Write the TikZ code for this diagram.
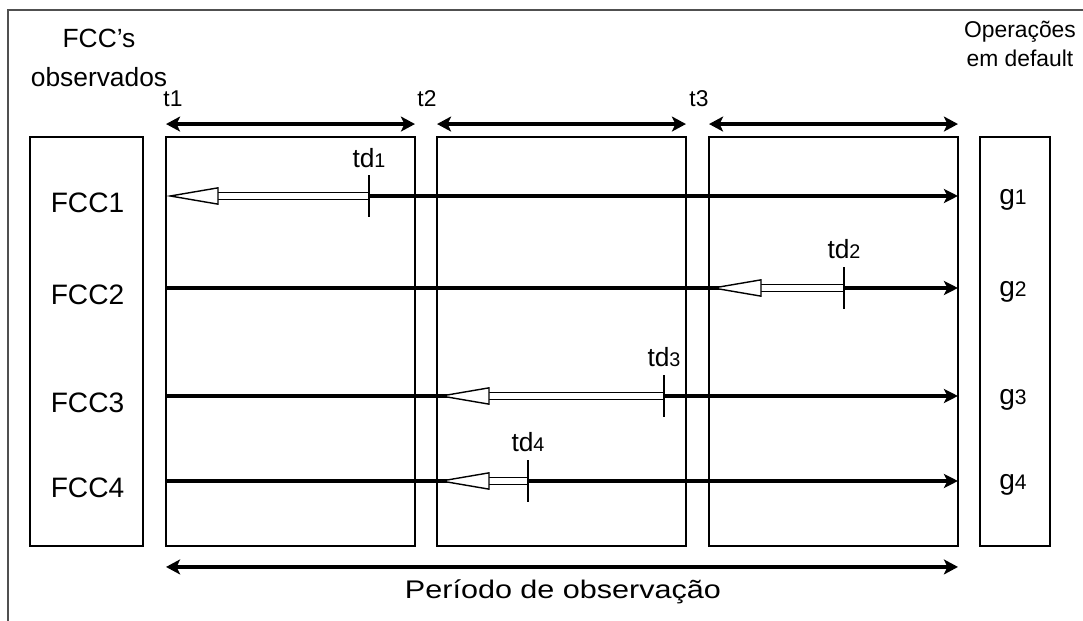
\documentclass[tikz,border=0pt]{standalone}
\usepackage{fontspec}
\setmainfont{Liberation Sans}
\newfontfamily\widesf[FakeStretch=1.2]{Liberation Sans}
\usetikzlibrary{arrows.meta, positioning}
\definecolor{framegray}{RGB}{80, 80, 80}
\newcommand{\ix}[1]{\scalebox{0.75}{#1}}

\begin{document}
\begin{tikzpicture}[x=0.02cm, y=-0.02cm,
    box/.style={draw, line width=0.9pt, inner sep=0pt, outer sep=0pt, minimum height=8.18cm},
    span/.style={line width=1.8pt, {Stealth[length=8pt,width=8.5pt,inset=2pt]}-{Stealth[length=8pt,width=8.5pt,inset=2pt]}},
    flow/.style={line width=1.8pt, -{Stealth[length=8pt,width=8pt,inset=2pt]}},
    hollow/.style={line width=0.8pt, double=white, double distance=3pt, -{Triangle[length=30pt,width=10pt,fill=white]}},
    tick/.style={line width=1.1pt},
    rowlbl/.style={anchor=base, font=\fontsize{16}{18}\selectfont},
    glbl/.style={anchor=base, font=\fontsize{16}{18}\selectfont},
    tdlbl/.style={anchor=base, font=\fontsize{15}{17}\selectfont},
    tlbl/.style={anchor=base, font=\fontsize{13}{15}\selectfont}]
    \useasboundingbox (0,0) rectangle (1083,621);
    \draw[framegray, line width=1.2pt] (8,621) -- (8,10) -- (1083,10);

    \node[box, minimum width=2.26cm] (obs) at (86.5,341.5) {};
    \node[box, minimum width=4.98cm] (p1) at (290.5,341.5) {};
    \node[box, minimum width=4.98cm] (p2) at (561.5,341.5) {};
    \node[box, minimum width=4.98cm] (p3) at (833.5,341.5) {};
    \node[box, minimum width=1.4cm] (dft) at (1015,341.5) {};

    \node[align=center, font=\fontsize{15}{22}\selectfont] (obshead) at (99,58) {FCC’s\\observados};
    \node[align=center, font=\fontsize{13}{16.5}\selectfont] (dfthead) at (1020,44) {Operações\\em default};

    \node[tlbl] (t1) at (173,107) {t1};
    \node[tlbl] (t2) at (427,107) {t2};
    \node[tlbl] (t3) at (699,107) {t3};
    \draw[span] ([yshift=0.26cm]p1.north west) -- ([yshift=0.26cm]p1.north east);
    \draw[span] ([yshift=0.26cm]p2.north west) -- ([yshift=0.26cm]p2.north east);
    \draw[span] ([yshift=0.26cm]p3.north west) -- ([yshift=0.26cm]p3.north east);

    \node[rowlbl] (fcc1) at (87.5,213) {FCC1};
    \node[rowlbl] (fcc2) at (87.5,305) {FCC2};
    \node[rowlbl] (fcc3) at (87.5,413) {FCC3};
    \node[rowlbl] (fcc4) at (87.5,498) {FCC4};
    \node[glbl] (g1) at (1013,205) {g\ix{1}};
    \node[glbl] (g2) at (1013,297) {g\ix{2}};
    \node[glbl] (g3) at (1013,405) {g\ix{3}};
    \node[glbl] (g4) at (1013,490) {g\ix{4}};

    \coordinate (td1) at (369,196);
    \coordinate (td2) at (844,288);
    \coordinate (td3) at (664,396);
    \coordinate (td4) at (528,481);

    \draw[flow] (td1) -- (p3.east |- td1);
    \draw[flow] (p1.west |- td2) -- (p3.east |- td2);
    \draw[flow] (p1.west |- td3) -- (p3.east |- td3);
    \draw[flow] (p1.west |- td4) -- (p3.east |- td4);

    \draw[hollow] (td1) -- (p1.west |- td1);
    \draw[hollow] (td2) -- (p3.west |- td2);
    \draw[hollow] (td3) -- (p2.west |- td3);
    \draw[hollow] (td4) -- (p2.west |- td4);

    \draw[tick] ([yshift=0.42cm]td1) -- ([yshift=-0.42cm]td1);
    \draw[tick] ([yshift=0.42cm]td2) -- ([yshift=-0.42cm]td2);
    \draw[tick] ([yshift=0.42cm]td3) -- ([yshift=-0.42cm]td3);
    \draw[tick] ([yshift=0.42cm]td4) -- ([yshift=-0.42cm]td4);
    \node[tdlbl] (td1lbl) at ([yshift=0.58cm]td1) {td\ix{1}};
    \node[tdlbl] (td2lbl) at ([yshift=0.6cm]td2) {td\ix{2}};
    \node[tdlbl] (td3lbl) at ([yshift=0.6cm]td3) {td\ix{3}};
    \node[tdlbl] (td4lbl) at ([yshift=0.6cm]td4) {td\ix{4}};

    \draw[span] ([yshift=-0.42cm]p1.south west) -- ([yshift=-0.42cm]p3.south east);
    \node[anchor=base, font=\widesf\fontsize{14.5}{16}\selectfont] (period) at (563,599) {Período de observação};
\end{tikzpicture}
\end{document}
